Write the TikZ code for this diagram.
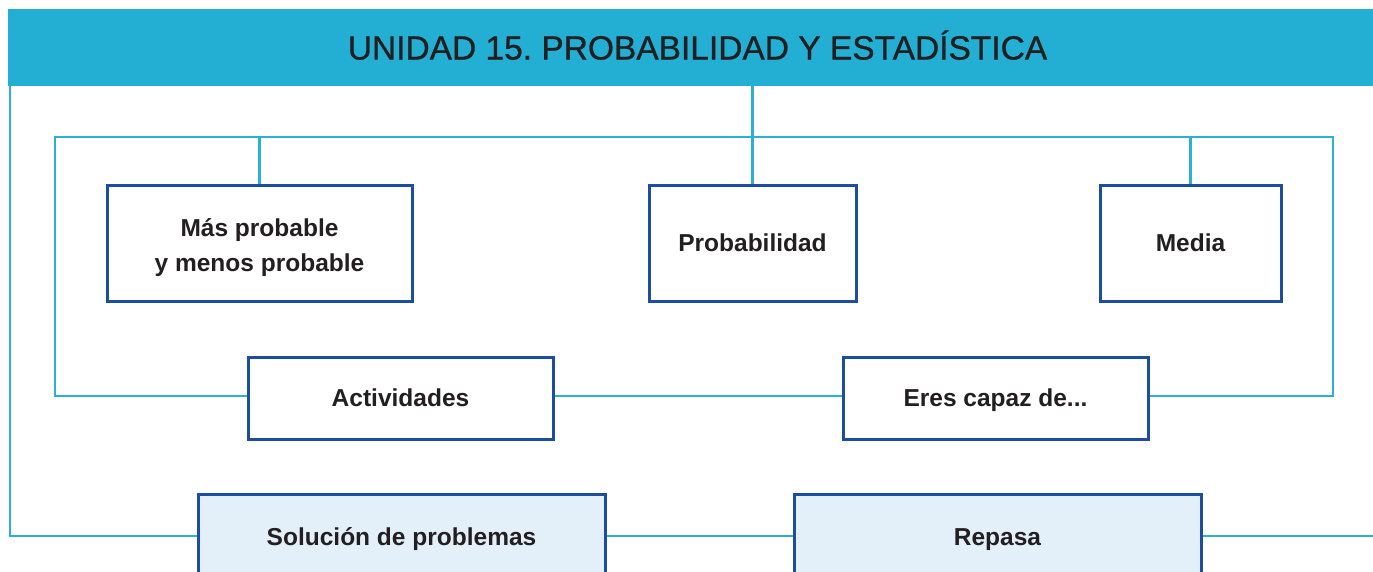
\documentclass[tikz,border=0pt]{standalone}
\usepackage{fontspec}
\setmainfont{Liberation Sans}
\newfontfamily\titulo[FakeBold=0.8]{Liberation Sans}
\usetikzlibrary{positioning,calc}
\definecolor{cian}{HTML}{23AED3}
\definecolor{linea}{HTML}{2DB0D6}
\definecolor{azul}{HTML}{1B4E9E}
\definecolor{celeste}{HTML}{E4F0F9}
\definecolor{texto}{HTML}{231F20}
\frenchspacing

\begin{document}
\begin{tikzpicture}[x=1pt, y=-1pt,
    caja/.style={draw=azul, line width=3pt, fill=white, align=center, text=texto,
        font=\bfseries\fontsize{24.5}{35}\selectfont, inner sep=0pt,
        text height=17.5pt, text depth=0pt},
    cajab/.style={caja, fill=celeste},
    con/.style={linea, line width=2.5pt}
]
\useasboundingbox (0,0) rectangle (1373,571);
\clip (0,0) rectangle (1373,571);

\node[fill=cian, minimum width=1379pt, minimum height=77pt, inner sep=0pt,
      text height=24pt, text depth=0pt,
      text=texto, font=\titulo\fontsize{33.5}{36}\selectfont] (head) at (697.5,47.5)
      {UNIDAD 15. PROBABILIDAD Y ESTADÍSTICA};

\coordinate (ftl) at (55,137);
\coordinate (ftr) at (1333,137);
\coordinate (fbl) at (55,396);
\coordinate (fbr) at (1333,396);
\coordinate (izq) at (10,86);
\coordinate (der) at (1380,536);

\node[caja, minimum width=305pt, minimum height=116pt, text height=56pt] (mas) at (259.5,243) {Más probable\\y menos probable};
\node[caja, minimum width=207pt, minimum height=116pt] (prob) at (752.5,243) {Probabilidad};
\node[caja, minimum width=181pt, minimum height=116pt] (media) at (1190.5,243) {Media};
\node[caja, minimum width=305pt, minimum height=82pt] (act) at (400.5,398) {Actividades};
\node[caja, minimum width=305pt, minimum height=82pt] (eres) at (995.5,398) {Eres capaz de...};
\node[cajab, minimum width=407pt, minimum height=86pt] (sol) at (401.5,537) {Solución de problemas};
\node[cajab, minimum width=407pt, minimum height=86pt] (rep) at (997.5,537) {Repasa};

% marco
\draw[con] (fbl -| act.west) -- (fbl) -- (ftl) -- (ftr) -- (fbr) -- (fbr -| eres.east);
\draw[con] (fbl -| act.east) -- (fbl -| eres.west);
\draw[con] (head.south -| prob.north) -- (prob.north);
\draw[con] (ftl -| mas.north) -- (mas.north);
\draw[con] (ftl -| media.north) -- (media.north);

% abajo
\draw[con] (izq) |- (der -| sol.west);
\draw[con] (der -| sol.east) -- (der -| rep.west);
\draw[con] (der -| rep.east) -- (der);
\end{tikzpicture}
\end{document}
